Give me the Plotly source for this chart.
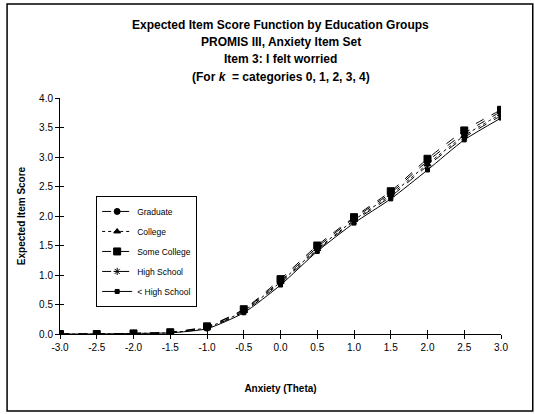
import plotly.graph_objects as go

theta = [-3.0, -2.5, -2.0, -1.5, -1.0, -0.5, 0.0, 0.5, 1.0, 1.5, 2.0, 2.5, 3.0]
tick_vals_x = [-3.0, -2.5, -2.0, -1.5, -1.0, -0.5, 0.0, 0.5, 1.0, 1.5, 2.0, 2.5, 3.0]
tick_vals_y = [0.0, 0.5, 1.0, 1.5, 2.0, 2.5, 3.0, 3.5, 4.0]

graduate = [0.00, 0.00, 0.01, 0.03, 0.12, 0.41, 0.90, 1.47, 1.96, 2.39, 2.93, 3.40, 3.77]
college = [0.00, 0.00, 0.01, 0.02, 0.11, 0.39, 0.88, 1.44, 1.93, 2.36, 2.88, 3.36, 3.73]
some_college = [0.00, 0.00, 0.01, 0.03, 0.13, 0.42, 0.93, 1.50, 1.98, 2.42, 2.97, 3.45, 3.80]
high_school = [0.00, 0.00, 0.01, 0.02, 0.10, 0.38, 0.86, 1.42, 1.91, 2.33, 2.85, 3.33, 3.70]
less_high_school = [0.00, 0.00, 0.01, 0.02, 0.09, 0.36, 0.83, 1.40, 1.88, 2.29, 2.78, 3.29, 3.66]

title_lines = [
    "Expected Item Score Function by Education Groups",
    "PROMIS III, Anxiety Item Set",
    "Item 3: I felt worried",
    "(For <i>k</i>  = categories 0, 1, 2, 3, 4)",
]

series = [
    ("Graduate", graduate, "dash", "circle", 6),
    ("College", college, "dot", "triangle-up", 6),
    ("Some College", some_college, "dash", "square", 7),
    ("High School", high_school, "dash", "asterisk-open", 6),
    ("< High School", less_high_school, "solid", "square", 4),
]

FONT = "Liberation Sans, Arial, sans-serif"

fig = go.Figure()
for i, (name, vals, dash, sym, size) in enumerate(series):
    fig.add_trace(go.Scatter(
        x=theta, y=vals, name=name, mode="lines+markers",
        line=dict(color="black", width=1, dash=dash, shape="spline", smoothing=0.6),
        marker=dict(symbol=sym, size=size, color="black",
                    line=dict(color="black", width=1)),
        legendgroup=f"g{i}",
    ))

# invisible trace on overlay axes so the inside half of each tick renders
fig.add_trace(go.Scatter(x=[theta[0]], y=[0], xaxis="x2", yaxis="y2",
                         mode="markers", marker=dict(opacity=0),
                         showlegend=False, hoverinfo="skip"))

axis_common = dict(showgrid=False, zeroline=False, showline=True,
                   linecolor="black", linewidth=1, tickcolor="black",
                   ticklen=4, tickwidth=1)

fig.update_layout(
    width=535, height=414,
    margin=dict(l=60, r=34, t=98, b=80),
    paper_bgcolor="white", plot_bgcolor="white",
    font=dict(family=FONT, size=10, color="black"),
    xaxis=dict(range=[-3, 3], tickvals=tick_vals_x,
               ticktext=[f"{v:.1f}" for v in tick_vals_x],
               ticks="outside", tickfont=dict(size=10),
               title=dict(text="<b>Anxiety (Theta)</b>",
                          font=dict(size=10), standoff=32),
               **axis_common),
    yaxis=dict(range=[0, 4], tickvals=tick_vals_y,
               ticktext=[f"{v:.1f}" for v in tick_vals_y],
               ticks="outside", tickfont=dict(size=10),
               title=dict(text="<b>Expected Item Score</b>",
                          font=dict(size=10), standoff=11),
               **axis_common),
    xaxis2=dict(range=[-3, 3], overlaying="x", tickvals=tick_vals_x,
                showticklabels=False, ticks="inside", anchor="y2",
                **axis_common),
    yaxis2=dict(range=[0, 4], overlaying="y", tickvals=tick_vals_y,
                showticklabels=False, ticks="inside", anchor="x2",
                **axis_common),
    legend=dict(x=0.082, y=0.585, xanchor="left", yanchor="top",
                bordercolor="black", borderwidth=1, bgcolor="white",
                font=dict(size=8.5), tracegroupgap=1, itemwidth=30),
    showlegend=True,
)

# four-line bold heading centred over the plot area
for line, ypos in zip(title_lines, [1.309, 1.237, 1.165, 1.089]):
    fig.add_annotation(text=f"<b>{line}</b>", xref="paper", yref="paper",
                       x=0.5, y=ypos, xanchor="center", yanchor="middle",
                       showarrow=False, font=dict(family=FONT, size=12))

# outer chart border
fig.add_shape(type="rect", xref="paper", yref="paper",
              x0=-0.12, x1=1.072, y0=-0.326, y1=1.398,
              line=dict(color="black", width=1.5), layer="below")

fig.write_html("out.html")
